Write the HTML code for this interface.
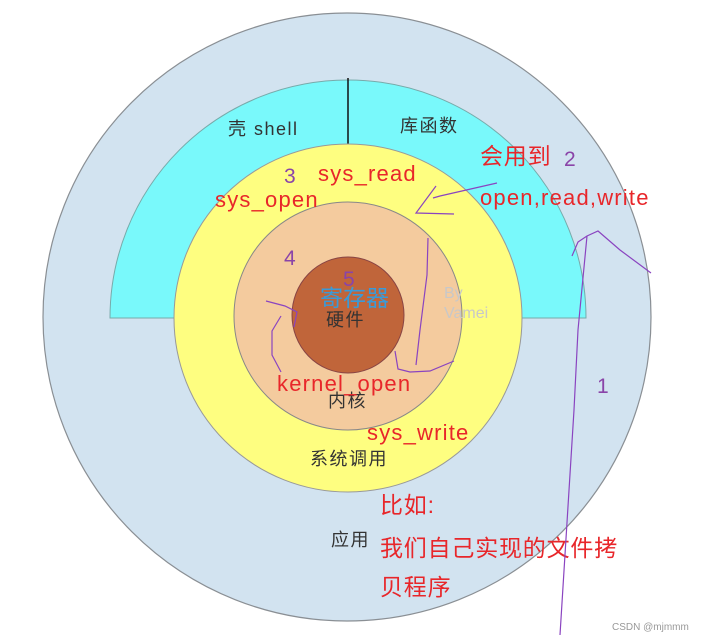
<!DOCTYPE html>
<html><head><meta charset="utf-8"><style>
html,body{margin:0;padding:0;background:#fff;width:723px;height:636px;overflow:hidden}
svg{display:block}
text{font-family:"Liberation Sans","Noto Sans CJK SC",sans-serif}
</style></head><body>
<svg width="723" height="636" viewBox="0 0 723 636">
<circle cx="347" cy="317" r="304" fill="#d2e3f0" stroke="#8a8f94" stroke-width="1.2"/>
<path d="M110 318 A238 238 0 0 1 586 318 Z" fill="#79f9fb" stroke="#7aa" stroke-width="1"/>
<line x1="348" y1="78" x2="348" y2="145" stroke="#111" stroke-width="1.5"/>
<ellipse cx="348" cy="318" rx="174" ry="174" fill="#fefe80" stroke="#999" stroke-width="1"/>
<ellipse cx="348" cy="316" rx="114" ry="114" fill="#f4cb9e" stroke="#888" stroke-width="1"/>
<ellipse cx="348" cy="315" rx="56" ry="58" fill="#c0653a" stroke="#844" stroke-width="1"/>
<g font-size="18" fill="#333" letter-spacing="1.5">
<text x="228" y="135">壳 shell</text>
<text x="400" y="132">库函数</text>
<text x="310" y="465">系统调用</text>
<text x="328" y="407">内核</text>
<text x="326" y="326">硬件</text>
<text x="331" y="546">应用</text>
</g>
<text x="444" y="298" font-size="16" fill="#c8c8c8">By</text>
<text x="444" y="318" font-size="16" fill="#c8c8c8">Vamei</text>
<text x="320" y="306" font-size="23" fill="#3a9ad8">寄存器</text>
<g font-size="22" fill="#e8262a" letter-spacing="1.2">
<text x="318" y="181">sys_read</text>
<text x="215" y="207">sys_open</text>
<text x="480" y="205">open,read,write</text>
<text x="277" y="391">kernel_open</text>
<text x="367" y="440">sys_write</text>
</g>
<g font-size="23" fill="#e8262a" letter-spacing="0.8">
<text x="480" y="164">会用到</text>
<text x="380" y="513">比如:</text>
<text x="380" y="556">我们自己实现的文件拷</text>
<text x="380" y="595">贝程序</text>
</g>
<g font-size="21" fill="#8a44a8">
<text x="284" y="183">3</text>
<text x="564" y="166">2</text>
<text x="284" y="265">4</text>
<text x="343" y="286">5</text>
<text x="597" y="393">1</text>
</g>
<g fill="none" stroke="#8a44c0" stroke-width="1.2">
<path d="M497 183 L440 196 L433 198 M436 186 L416 213 L454 214"/>
<path d="M428 238 L427 275 L420 330 L416 365 M395 351 L398 369 L410 372 L430 371 L454 361"/>
<path d="M266 301 L285 306 L297 312 L294 327 M281 316 L272 331 L272 355 L281 372"/>
<path d="M560 635 L574 410 L578 330 L587 236 L598 231 L620 250 L651 273 M587 236 L578 242 L572 256"/>
</g>
<text x="612" y="630" font-size="10" fill="#999">CSDN @mjmmm</text>
</svg>
</body></html>
